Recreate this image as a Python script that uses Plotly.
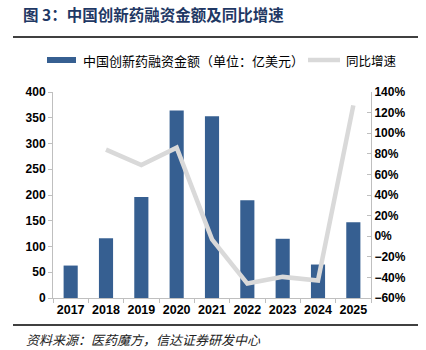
import plotly.graph_objects as go

years = ["2017", "2018", "2019", "2020", "2021", "2022", "2023", "2024", "2025"]
amount = [63, 116, 196, 364, 353, 190, 115, 65, 147]
growth_years = ["2018", "2019", "2020", "2021", "2022", "2023", "2024", "2025"]
growth = [84, 69, 86, -3, -46, -39.5, -43, 127]

W, H = 426, 350
L, R, T, B = 53, 371, 92, 298

def px(x):
    return (x - L) / (R - L)

def py(y):
    return (B - y) / (B - T)

fig = go.Figure()
fig.add_trace(go.Bar(x=years, y=amount, marker=dict(color="#365f91", line=dict(width=0)),
                     name="中国创新药融资金额（单位：亿美元）", yaxis="y"))
fig.add_trace(go.Scatter(x=growth_years, y=growth, mode="lines",
                         line=dict(color="#d9d9d9", width=4.5), name="同比增速", yaxis="y2"))

cjk = "Noto Sans CJK SC"

fig.update_layout(
    width=W, height=H,
    margin=dict(l=L, r=W - R, t=T, b=H - B),
    paper_bgcolor="white", plot_bgcolor="white",
    showlegend=False,
    bargap=0.6,
    xaxis=dict(type="category", showline=True, linecolor="#bfbfbf", linewidth=1,
               ticks="outside", ticklen=4, tickcolor="#bfbfbf", tickson="boundaries",
               tickangle=0,
               tickfont=dict(family="Liberation Sans, Arial", size=12.5, color="#000", weight="bold"),
               showgrid=False),
    yaxis=dict(range=[0, 400], dtick=50, showline=True, linecolor="#bfbfbf", linewidth=1,
               ticks="outside", ticklen=4, tickcolor="#bfbfbf", showgrid=False, zeroline=False,
               tickfont=dict(family="Liberation Sans, Arial", size=12, color="#000", weight="bold")),
    yaxis2=dict(range=[-60, 140], dtick=20, overlaying="y", side="right", showline=True,
                linecolor="#bfbfbf", linewidth=1, ticks="inside", ticklen=4, tickcolor="#bfbfbf",
                ticksuffix="%", showgrid=False, zeroline=False,
                tickfont=dict(family="Liberation Sans, Arial", size=12, color="#000", weight="bold")),
)

# Legend (manual)
fig.add_shape(type="rect", xref="paper", yref="paper", x0=px(47), x1=px(76), y0=py(63), y1=py(57),
              fillcolor="#365f91", line=dict(width=0))
fig.add_annotation(text="中国创新药融资金额（单位：亿美元）", xref="paper", yref="paper",
                   x=px(81), y=py(60), xanchor="left", yanchor="middle", showarrow=False,
                   font=dict(family=cjk, size=13, color="#000"))
fig.add_shape(type="line", xref="paper", yref="paper", x0=px(308), x1=px(340), y0=py(60), y1=py(60),
              line=dict(color="#d9d9d9", width=4.5))
fig.add_annotation(text="同比增速", xref="paper", yref="paper",
                   x=px(344), y=py(60), xanchor="left", yanchor="middle", showarrow=False,
                   font=dict(family=cjk, size=12.5, color="#000"))

# Title
fig.add_annotation(text="<b>图 3：中国创新药融资金额及同比增速</b>", xref="paper", yref="paper",
                   x=px(21), y=py(14), xanchor="left", yanchor="middle", showarrow=False,
                   font=dict(family=cjk, size=15.5, color="#1f3864"))
# Rules
fig.add_shape(type="line", xref="paper", yref="paper", x0=px(13), x1=px(418), y0=py(37), y1=py(37),
              line=dict(color="#000", width=1.5))
fig.add_shape(type="line", xref="paper", yref="paper", x0=px(13), x1=px(418), y0=py(325), y1=py(325),
              line=dict(color="#000", width=1.5))
# Source
fig.add_annotation(text="<i>资料来源：医药魔方，信达证券研发中心</i>", xref="paper", yref="paper",
                   x=px(24), y=py(339), xanchor="left", yanchor="middle", showarrow=False,
                   font=dict(family=cjk, size=13, color="#222"))

fig.write_html("out.html")
